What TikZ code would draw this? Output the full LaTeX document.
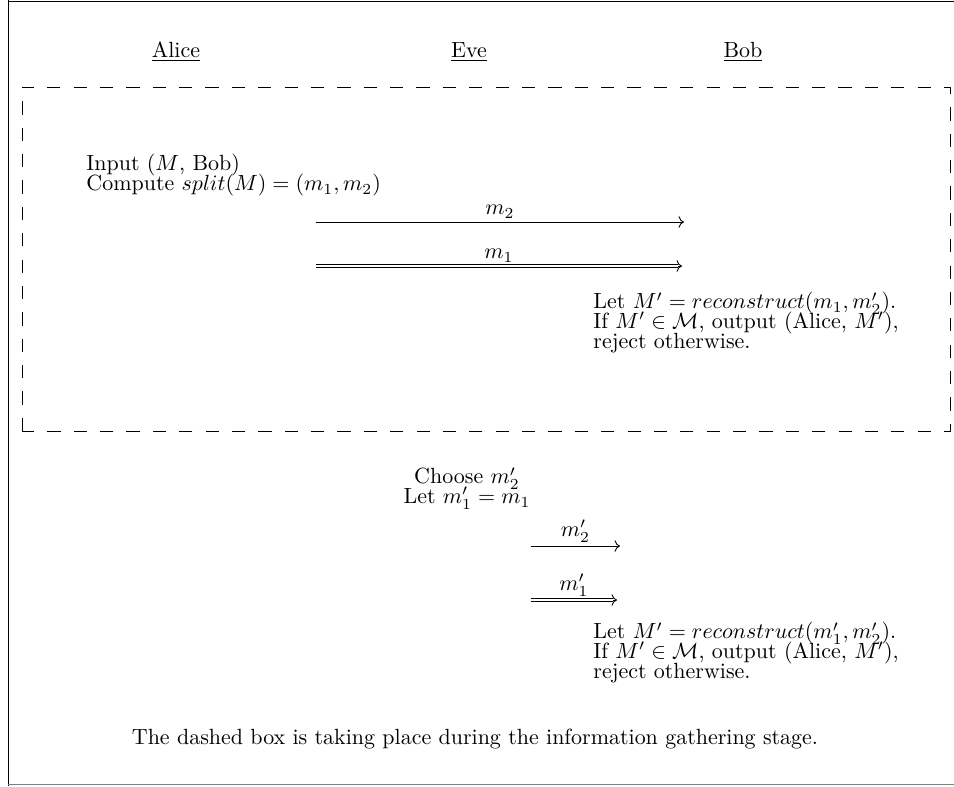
\documentclass[tikz,border=0pt]{standalone}
\usepackage{amsmath}
\usetikzlibrary{arrows.meta}

\begin{document}
\begin{tikzpicture}[x=0.455pt, y=-0.455pt,
  party/.style={anchor=base, inner sep=0pt},
  steptext/.style={align=left, anchor=north west, inner sep=0pt},
  evetext/.style={align=center, anchor=north, inner sep=0pt},
  msg/.style={->},
  msgdouble/.style={->, postaction={draw, -, double, double distance=1.2pt, shorten >=2pt}},
  msglabel/.style={midway, above, inner sep=1.5pt}]
  \useasboundingbox (0,0) rectangle (954,786);

  % 枠
  \draw (8,0) -- (8,786);
  \draw (8,1) -- (954,1);
  \draw [gray] (8,784.5) -- (954,784.5);

  % 参加者
  \node [party] (alice) at (176,57) {\underline{Alice}};
  \node [party] (eve) at (469,57) {\underline{Eve}};
  \node [party] (bob) at (743,57) {\underline{Bob}};

  % 情報収集段階
  \draw [dash pattern=on 6pt off 6pt] (22,431) -- (22,87) -- (950,87) -- (950,431) -- cycle;

  \node [steptext] (alicein) at (86,154) {Input ($M$, Bob)\\[-3pt]
    Compute $split(M)=(m_1,m_2)$};

  \coordinate (m2s) at (316,222);
  \coordinate (m2e) at (684,222);
  \coordinate (m1s) at (316,266);
  \coordinate (m1e) at (682,266);
  \draw [msg] (m2s) -- node [msglabel] {$m_2$} (m2e);
  \draw [msgdouble] (m1s) -- node [msglabel] {$m_1$} (m1e);

  \node [steptext] (bobout) at (593,292) {Let $M'=reconstruct(m_1,m_2')$.\\[-3pt]
    If $M'\in\mathcal{M}$, output (Alice, $M'$),\\[-3pt]
    reject otherwise.};

  % 攻撃
  \node [evetext] (evechoose) at (467,467) {Choose $m_2'$\\[-3pt]
    Let $m_1'=m_1$};

  \coordinate (e2s) at (531,546);
  \coordinate (e2e) at (620,546);
  \coordinate (e1s) at (531,600);
  \coordinate (e1e) at (617,600);
  \draw [msg] (e2s) -- node [msglabel] {$m_2'$} (e2e);
  \draw [msgdouble] (e1s) -- node [msglabel] {$m_1'$} (e1e);

  \node [steptext] (bobout2) at (593,622) {Let $M'=reconstruct(m_1',m_2')$.\\[-3pt]
    If $M'\in\mathcal{M}$, output (Alice, $M'$),\\[-3pt]
    reject otherwise.};

  % 説明
  \node [party] (caption) at (475,744) {The dashed box is taking place during the information gathering stage.};
\end{tikzpicture}
\end{document}
